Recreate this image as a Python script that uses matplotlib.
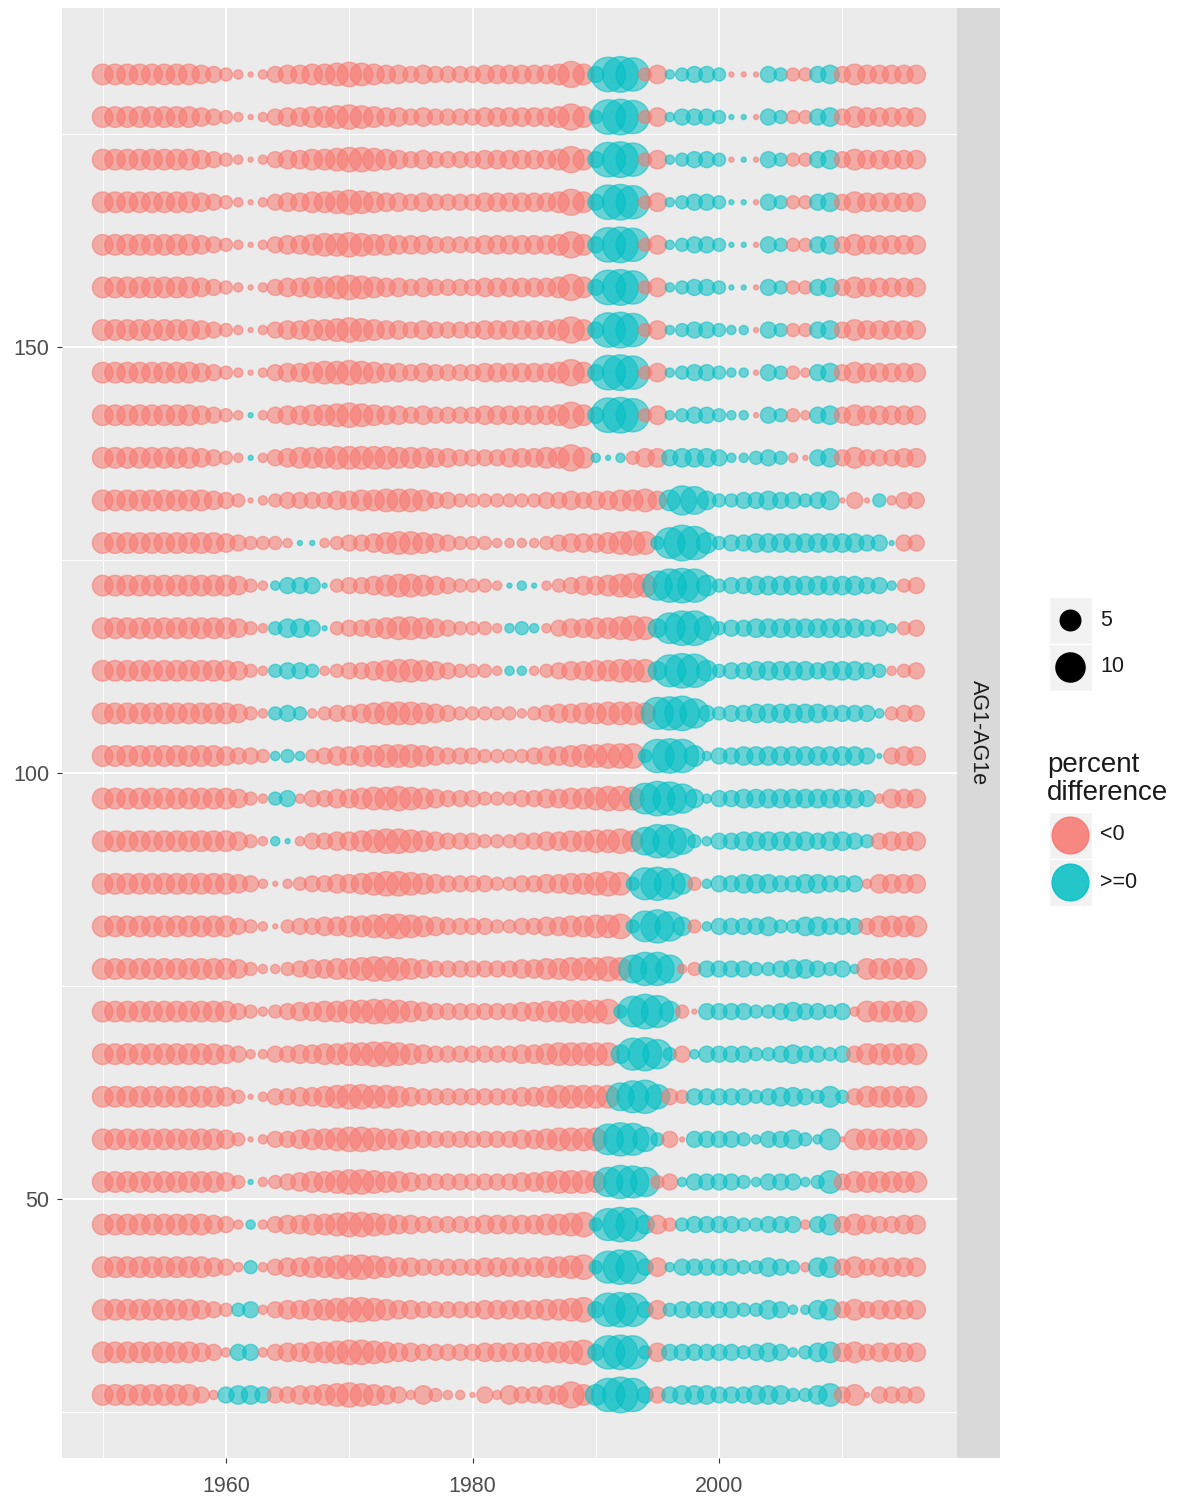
import matplotlib
matplotlib.use('Agg')
import matplotlib.pyplot as plt
from matplotlib.patches import Rectangle

plt.rcParams['font.family'] = ['Liberation Sans', 'DejaVu Sans']

# ---- data ------------------------------------------------------------
years = list(range(1950, 2017))
row_ids = [182, 177, 172, 167, 162, 157, 152, 147, 142, 137, 132, 127, 122,
           117, 112, 107, 102, 97, 92, 87, 82, 77, 72, 67, 62, 57, 52, 47,
           42, 37, 32, 27]

# one string per row (top row first), one letter per year, decades split by spaces
# lower case -> percent difference < 0, upper case -> >= 0
# a ~ 0, b = 1, c = 2, ... p = 15 (absolute percent difference)
rows = [
    "ffffffffed cbabdeeffg hgfeededdd deeeeeefif DOPNceBCDD CaaaDCccDE dfeeeee",
    "ffffffffed cbabdeeffg hgfeededdd deeeeeefif COPNceBDDD CAAaDCccDE dfeeeee",
    "ffffffffed cbabdeeffg hhgfededdd deeeeeefif DOPNceBCDD CaAaDCccDE dfeeeee",
    "ffffffffed cbabdeeffg hgfeededdd deeeeeefif DOPNceBCDD CAAaDCccDE dfeeeee",
    "ffffffffed cbabdeefgg hgffeeeddd deeeeeefif DOPNceBCDD CAAaDCccDE dfeeeee",
    "ffffffffed cbabdeeffg hgfeededdd deeeeeefif DOPNceBCDD CAAaDCccDE dfeeeee",
    "ffffffffed cbabdeeffg hgfeededdd deeeeeefif DOPNceBCDD CBBaDCccDE dfeeeee",
    "ffffffffed cbabdeefgg hgfeededdd deeeeeefif DOPNceBCDD CBBaDCcbDE dfeeeee",
    "ffffffffed cbAbdeeffg hgfeededdd deeeeeefif DOPNceBCDD CBBaDCcbDE dfeeeee",
    "ffffffffed cbAbdefffg ggggfffeed dddeeeffif BABceeDEEE DBBCDCbaDE dfdddee",
    "fffffffffe dcabcdddde effgggfddc ccccccdded eeffgeFKJE CCDDEDDCDE adaCbdd",
    "ffffffffff edcccbAAbc ddefggfedc ccbbbbcdee efghgCLPNF CDDEEEEEEE EEDDAdd",
    "ffffffffff fecbBDDDAc ddefggfedc ccbABAbcde efghgKNONF CDDEEEEEEE EEDDBcd",
    "ffffffffff fecbCEEDAc ddefggfedc ccbBCBbdee ffghgELOOH CDDEEEEEEE EEDDBcd",
    "ffffffffff fecbCDDCbc ddefggfedc ccbBBbcdee ffgggEMONF CDDEEEEEDE EEDCbcd",
    "ffffffffff fecbCDCbcd defgggfedc ccccbcdeef fgggfMNOKD CDDEEEEEED DDDBcdd",
    "ffffffffff eddcBCBcde effgggfedd dccccdeefg ghhhCNONFB DDEEEEEEEE EEDAdee",
    "ffffffffff fecbCDbdde efgghgfedd dcccddeeff ghhgLONKEB DDEEEEEEEE EEDbeee",
    "ffffffffff fecbBAbdde efghhgfedd dcccddeeff gghfJNNICB DDEEEEEEDE EDCdeee",
    "ffffffffff fedbabcdde efghhgfedd ddccddeeff ghgCMNLFcB DDEEEDDEED DDbeeee",
    "ffffffffff fdcbacddee ffghhgfedd ddccddeeff gghCLNKEcB DDDDECCEED DDdffff",
    "ffffffffff fecbbcdeef fghhgfeddd ddddeeffgg ghgJNNJbcD DDDCCDEEDC DBfffff",
    "ffffffffff fdcbcdeeff gghhgfeddd ddddeeffgg ghCLOMFcaD DDDCCDEDDC Dbfffff",
    "ffffffffff edbbddeeff gghhgfeddd ddddeefggg ggEMNKCdBD DDDCCDEDDC Ddfffff",
    "ffffffffff ecabddeefg hhggfedddd ddddeefggg ggJMNHdcDD DDDCDEEDCF Cdfffff",
    "ffffffffff ecabddeffg hhgffedddd ddddeefggg gLNMHCdaDD DDCBDDECBF affffff",
    "ffffffffff ecAbcdeffg hhgffedddd ddddeefggg fKNMKcdBDD DDCBDDDBCG dffffff",
    "fffffffffe dbBbdeeffg hhgfeedddd deeeeeffgh CMONEecCDD DDCCDDDbDF dfeddee",
    "fffffffffe dbCbdeeffg hhgfeedddd deeeeeffgh CMONDeBDDD DDCCEDCbEF dfdeeee",
    "ffffffffed cCDbdeeffg hhgfeedddd deeeeeffgh DNONDeCDDD DDCCEDBBEF dfdeeee",
    "ffffffffed bDDbdeeffg hhgfeedddd deeeeeffgh DNONCeDDDD DDCDEDBCEF efdeeee",
    "ffffffffdb DEEDddeefg hgfedbecbb adbeddeeif FNPNDdDEEE DDDEEECCEG dfadddd",
]

size_breaks = [5, 10]
color_labels = ['<0', '>=0']
legend_title = 'percent\ndifference'
strip_label = 'AG1-AG1e'

RED = '#F8766D'
TEAL = '#00BFC4'
SIZE_K = 44          # points^2 per unit of |percent difference|
LEVELS = 'abcdefghijklmnop'

xs, ys, vals = [], [], []
for rid, code in zip(row_ids, rows):
    code = code.replace(' ', '')
    assert len(code) == len(years), (rid, len(code))
    for yr, ch in zip(years, code):
        mag = LEVELS.index(ch.lower()) or 0.3
        xs.append(yr)
        ys.append(rid)
        vals.append(mag if ch.isupper() else -mag)

cols = [TEAL if v >= 0 else RED for v in vals]
sizes = [SIZE_K * abs(v) for v in vals]

# ---- figure ------------------------------------------------------------
W, H = 1187, 1500
fig = plt.figure(figsize=(W / 100, H / 100), dpi=100)
fig.patch.set_facecolor('white')

ax = fig.add_axes([62 / W, 42 / H, 895 / W, 1450 / H])
ax.set_facecolor('#EBEBEB')
for sp in ax.spines.values():
    sp.set_visible(False)

ax.scatter(xs, ys, s=sizes, c=cols, edgecolors=cols, linewidths=1.0,
           alpha=0.55, zorder=3)

ax.set_xlim(1946.7, 2019.3)
ax.set_ylim(19.6, 189.8)
ax.set_xticks([1960, 1980, 2000])
ax.set_xticks([1950, 1970, 1990, 2010], minor=True)
ax.set_yticks([50, 100, 150])
ax.set_yticks([25, 75, 125, 175], minor=True)
ax.set_axisbelow(True)
ax.grid(which='major', color='white', linewidth=1.4)
ax.grid(which='minor', color='white', linewidth=0.7)
ax.tick_params(which='minor', length=0)
ax.tick_params(which='major', length=3.8, width=0.8, color='#333333',
               labelsize=15.5, labelcolor='#4D4D4D')
ax.tick_params(axis='x', pad=9)
ax.tick_params(axis='y', pad=5.5)

# facet strip on the right
sax = fig.add_axes([957 / W, 42 / H, 43 / W, 1450 / H])
sax.set_facecolor('#D9D9D9')
sax.set_xticks([])
sax.set_yticks([])
for sp in sax.spines.values():
    sp.set_visible(False)
sax.text(0.5, 0.5, strip_label, rotation=-90, ha='center', va='center',
         fontsize=15.5, color='#1A1A1A', transform=sax.transAxes)

# ---- legends (drawn in pixel coordinates) -------------------------------
lax = fig.add_axes([0, 0, 1, 1], zorder=5)
lax.set_xlim(0, W)
lax.set_ylim(H, 0)
lax.axis('off')

for i, v in enumerate(size_breaks):
    cy = 620 + 47 * i
    lax.add_patch(Rectangle((1049, cy - 23.5), 43, 47, facecolor='#F2F2F2',
                            edgecolor='white', linewidth=1))
    lax.scatter([1070], [cy], s=SIZE_K * v, c='black', zorder=3)
    lax.text(1100, cy, str(v), va='center', ha='left', fontsize=15.5,
             color='#1A1A1A')

lax.text(1047, 779, legend_title, va='center', ha='left', fontsize=20,
         linespacing=1.1, color='#1A1A1A')
for i, (lab, col) in enumerate(zip(color_labels, [RED, TEAL])):
    cy = 835 + 47 * i
    lax.add_patch(Rectangle((1049, cy - 23.5), 43, 47, facecolor='#F2F2F2',
                            edgecolor='white', linewidth=1))
    lax.scatter([1070], [cy], s=700, c=col, alpha=0.85, zorder=3)
    lax.text(1100, cy, lab, va='center', ha='left', fontsize=15.5,
             color='#1A1A1A')

fig.savefig('out.png', dpi=100, facecolor='white')
